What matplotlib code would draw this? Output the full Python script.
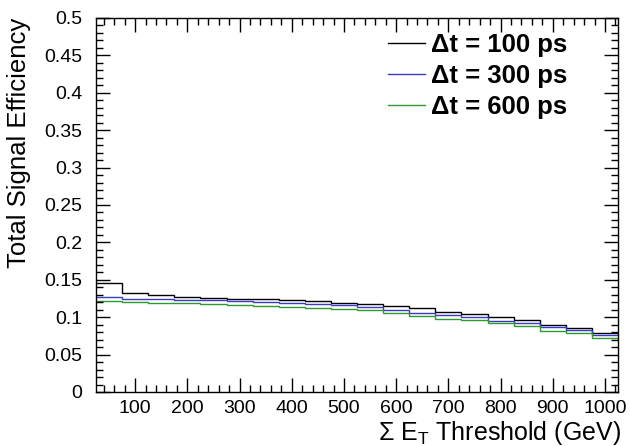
import numpy as np
import matplotlib
matplotlib.use("Agg")
import matplotlib.pyplot as plt
from matplotlib.ticker import MultipleLocator, FuncFormatter
from matplotlib.lines import Line2D

# Bin centres of the sum-ET threshold scan (GeV), 50 GeV bins
thresholds = np.array([50, 100, 150, 200, 250, 300, 350, 400, 450, 500,
                       550, 600, 650, 700, 750, 800, 850, 900, 950, 1000])

eff_100ps = [0.146, 0.132, 0.1295, 0.1275, 0.126, 0.125, 0.1245, 0.123, 0.1215, 0.119,
             0.1175, 0.115, 0.112, 0.1076, 0.1044, 0.1004, 0.0962, 0.0902, 0.0851, 0.0792]
eff_300ps = [0.1265, 0.125, 0.124, 0.123, 0.1225, 0.1215, 0.1205, 0.1195, 0.118, 0.116,
             0.1138, 0.1098, 0.1062, 0.1031, 0.1009, 0.0951, 0.0929, 0.0874, 0.0831, 0.0764]
eff_600ps = [0.1212, 0.12, 0.119, 0.1185, 0.118, 0.1165, 0.115, 0.114, 0.1125, 0.111,
             0.1095, 0.1053, 0.1018, 0.0973, 0.096, 0.0916, 0.0876, 0.0814, 0.0787, 0.0718]

labels = ["Δt = 100 ps", "Δt = 300 ps", "Δt = 600 ps"]
colors = ["black", "#3a3ac8", "#2e9a2e"]

plt.rcParams['font.family'] = ['Liberation Sans', 'DejaVu Sans']
plt.rcParams['mathtext.fontset'] = 'custom'
plt.rcParams['mathtext.rm'] = 'Liberation Sans'
plt.rcParams['mathtext.it'] = 'Liberation Sans:italic'
plt.rcParams['mathtext.bf'] = 'Liberation Sans:bold'

fig = plt.figure(figsize=(6.3, 4.46), dpi=100)
ax = fig.add_axes([96 / 630, 1 - 392 / 446, 522 / 630, 374 / 446])

half = (thresholds[1] - thresholds[0]) / 2
edges = np.append(thresholds - half, thresholds[-1] + half)

for vals, c in zip([eff_100ps, eff_300ps, eff_600ps], colors):
    ax.stairs(vals, edges, baseline=None, color=c, lw=1.0)

ax.set_xlim(edges[0], edges[-1])
ax.set_ylim(0, 0.5)

ax.xaxis.set_major_locator(MultipleLocator(100))
ax.xaxis.set_minor_locator(MultipleLocator(20))
ax.yaxis.set_major_locator(MultipleLocator(0.05))
ax.yaxis.set_minor_locator(MultipleLocator(0.01))
ax.yaxis.set_major_formatter(FuncFormatter(lambda v, p: f"{v:g}"))

ax.tick_params(which='both', direction='in', top=True, right=True, labelsize=14, width=1)
ax.tick_params(which='major', length=10)
ax.tick_params(which='minor', length=5)
ax.tick_params(axis='y', pad=10)
ax.tick_params(axis='x', pad=6)
for s in ax.spines.values():
    s.set_linewidth(1)

ax.set_xlabel(r"Σ E$_{\rm T}$ Threshold (GeV)", fontsize=18, loc='right', labelpad=1)
ax.xaxis.label.set_x(1.006)
ax.set_ylabel("Total Signal Efficiency", fontsize=18.5, loc='top', labelpad=9)

handles = [Line2D([], [], color=c, lw=1.0) for c in colors]
ax.legend(handles, labels, loc='upper left', bbox_to_anchor=(0.559, 0.96),
          frameon=False, prop={'weight': 'bold', 'size': 18.5},
          handlelength=1.45, handletextpad=0.25, labelspacing=0.28,
          borderaxespad=0, borderpad=0)

fig.savefig("out.png", dpi=100)
